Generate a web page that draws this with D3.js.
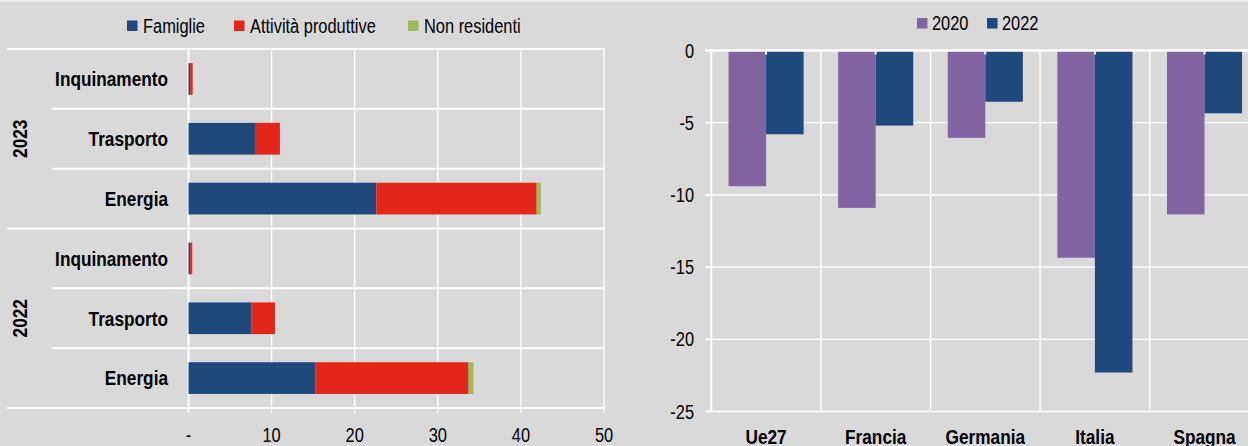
<!DOCTYPE html>
<html>
<head>
<meta charset="utf-8">
<style>
  body { margin: 0; background: #d9d9d9; }
  svg { display: block; }
  text { font-family: "Liberation Sans Narrow", "Arial Narrow", "Liberation Sans", Arial, sans-serif; fill: #000; }
  .bold { font-weight: bold; }
</style>
</head>
<body>
<svg id="chart" width="1248" height="446"></svg>
<script src="https://d3js.org/d3.v7.min.js"></script>
<script>
// ---- left panel data (stacked bars) ----
var years = ["2023", "2022"];
var sectors = ["Inquinamento", "Trasporto", "Energia"];
var stackKeys = ["Famiglie", "Attività produttive", "Non residenti"];
var stackColors = ["#1f497d", "#e3261a", "#9bbb59"];
var famiglie2023 = [0.2, 8.1, 22.6];
var attivita2023 = [0.3, 2.9, 19.3];
var nonres2023 = [0.0, 0.0, 0.5];
var famiglie2022 = [0.2, 7.6, 15.3];
var attivita2022 = [0.25, 2.8, 18.4];
var nonres2022 = [0.0, 0.0, 0.6];
var xTicks = [0, 10, 20, 30, 40, 50];

// ---- right panel data (grouped bars) ----
var countries = ["Ue27", "Francia", "Germania", "Italia", "Spagna"];
var groupKeys = ["2020", "2022"];
var groupColors = ["#8064a2", "#1f497d"];
var values2020 = [-9.4, -10.9, -6.05, -14.35, -11.35];
var values2022 = [-5.8, -5.2, -3.55, -22.3, -4.35];
var yTicks = [0, -5, -10, -15, -20, -25];

var svg = d3.select("#chart");
svg.append("rect").attr("width", 1248).attr("height", 446).attr("fill", "#d9d9d9");
svg.append("rect").attr("width", 1248).attr("height", 2).attr("fill", "#ececec");

// no narrow font installed: squeeze the regular one to an Arial Narrow width
function narrow(sel) {
  sel.each(function() {
    var len = this.getComputedTextLength();
    d3.select(this).attr("textLength", len * 0.82).attr("lengthAdjust", "spacingAndGlyphs");
  });
}

// ================= LEFT PANEL =================
var rows = [];
years.forEach(function(yr) {
  sectors.forEach(function(s, i) {
    var f = yr == "2023" ? famiglie2023 : famiglie2022;
    var a = yr == "2023" ? attivita2023 : attivita2022;
    var n = yr == "2023" ? nonres2023 : nonres2022;
    var row = { id: yr + "-" + s, year: yr, sector: s };
    row[stackKeys[0]] = f[i];
    row[stackKeys[1]] = a[i];
    row[stackKeys[2]] = n[i];
    rows.push(row);
  });
});

var x = d3.scaleLinear().domain([0, 50]).range([188.5, 604]);
var yRow = d3.scaleBand().domain(rows.map(function(d) { return d.id; }))
  .range([49, 408]).paddingInner(0.47).paddingOuter(0.235);
var rowStep = yRow.step();

var left = svg.append("g");

// vertical gridlines
left.selectAll(".vgrid").data(xTicks.slice(1)).enter().append("line")
  .attr("x1", function(d) { return x(d); }).attr("x2", function(d) { return x(d); })
  .attr("y1", 49).attr("y2", 413)
  .attr("stroke", "#fff").attr("stroke-width", 1.3);

// horizontal row separators
rows.forEach(function(r, i) {
  var yTop = 49 + i * rowStep;
  var isGroupStart = (i % 3 == 0);
  left.append("line")
    .attr("x1", isGroupStart ? 7 : 52).attr("x2", x(50))
    .attr("y1", yTop).attr("y2", yTop)
    .attr("stroke", "#fff").attr("stroke-width", 2);
});
left.append("line").attr("x1", 7).attr("x2", x(50))
  .attr("y1", 408).attr("y2", 408).attr("stroke", "#fff").attr("stroke-width", 2);

// axis line at zero
left.append("line").attr("x1", x(0)).attr("x2", x(0)).attr("y1", 49).attr("y2", 413)
  .attr("stroke", "#fff").attr("stroke-width", 2);

// stacked bars
var stacked = d3.stack().keys(stackKeys)(rows);
left.selectAll(".series").data(stacked).enter().append("g")
  .attr("fill", function(d, i) { return stackColors[i]; })
  .selectAll("rect").data(function(d) { return d; }).enter().append("rect")
  .attr("x", function(d) { return x(d[0]); })
  .attr("width", function(d) { return Math.max(0, x(d[1]) - x(d[0])); })
  .attr("y", function(d) { return yRow(d.data.id); })
  .attr("height", yRow.bandwidth());

// category labels
left.selectAll(".cat").data(rows).enter().append("text")
  .attr("class", "bold")
  .attr("x", 168)
  .attr("y", function(d) { return yRow(d.id) + yRow.bandwidth() / 2; })
  .attr("dy", "0.35em")
  .attr("text-anchor", "end")
  .style("font-size", "21px")
  .text(function(d) { return d.sector; })
  .call(narrow);

// year labels (rotated)
years.forEach(function(yr, gi) {
  var cy = 49 + (gi * 3 + 1.5) * rowStep;
  left.append("text")
    .attr("class", "bold")
    .attr("transform", "translate(20," + cy + ") rotate(-90)")
    .attr("text-anchor", "middle")
    .attr("dy", "0.35em")
    .style("font-size", "21px")
    .text(yr)
    .call(narrow);
});

// x axis labels
var xAxis = left.append("g").attr("transform", "translate(0,408)");
xAxis.selectAll(".xt").data(xTicks).enter().append("text")
  .attr("x", function(d) { return x(d); })
  .attr("y", 34)
  .attr("text-anchor", "middle")
  .style("font-size", "20px")
  .text(function(d) { return d == 0 ? "-" : d; })
  .call(narrow);

// left legend
var legL = [127, 234, 408];
stackKeys.forEach(function(k, i) {
  svg.append("rect").attr("x", legL[i]).attr("y", 20.5).attr("width", 10.5).attr("height", 10.5)
    .attr("fill", stackColors[i]);
  svg.append("text").attr("x", legL[i] + 16).attr("y", 33)
    .style("font-size", "20px").text(k).call(narrow);
});

// ================= RIGHT PANEL =================
var groups = countries.map(function(c, i) {
  return { country: c, "2020": values2020[i], "2022": values2022[i] };
});

var xc = d3.scaleBand().domain(countries).range([711.3, 1259.3]).padding(0);
var xs = d3.scaleBand().domain(groupKeys).range([0, xc.bandwidth()]).paddingInner(0).paddingOuter(0.46);
var y = d3.scaleLinear().domain([-25, 0]).range([411.5, 50.5]);

var right = svg.append("g");

// horizontal gridlines
right.selectAll(".hgrid").data(yTicks.slice(1)).enter().append("line")
  .attr("x1", 711).attr("x2", 1248)
  .attr("y1", function(d) { return y(d); }).attr("y2", function(d) { return y(d); })
  .attr("stroke", "#fff").attr("stroke-width", 1.3);

// vertical gridlines at category boundaries
right.selectAll(".vgrid").data(countries.slice(1)).enter().append("line")
  .attr("x1", function(d) { return xc(d); }).attr("x2", function(d) { return xc(d); })
  .attr("y1", y(0)).attr("y2", y(-25))
  .attr("stroke", "#fff").attr("stroke-width", 1.3);

// bars
right.selectAll(".grp").data(groups).enter().append("g")
  .attr("transform", function(d) { return "translate(" + xc(d.country) + ",0)"; })
  .selectAll("rect").data(function(d) { return groupKeys.map(function(k, i) { return { key: k, value: d[k], color: groupColors[i] }; }); })
  .enter().append("rect")
  .attr("x", function(d) { return xs(d.key); })
  .attr("width", xs.bandwidth())
  .attr("y", y(0))
  .attr("height", function(d) { return y(d.value) - y(0); })
  .attr("fill", function(d) { return d.color; });

// y axis line and ticks
right.append("line").attr("x1", 711.3).attr("x2", 711.3).attr("y1", y(0)).attr("y2", y(-25))
  .attr("stroke", "#fff").attr("stroke-width", 2);
right.selectAll(".ytick").data(yTicks).enter().append("line")
  .attr("x1", 705.5).attr("x2", 711.3)
  .attr("y1", function(d) { return y(d); }).attr("y2", function(d) { return y(d); })
  .attr("stroke", "#fff").attr("stroke-width", 2);
// zero line (top)
right.append("line").attr("x1", 705.5).attr("x2", 1248).attr("y1", y(0)).attr("y2", y(0))
  .attr("stroke", "#fff").attr("stroke-width", 2.5);
// small ticks on zero line
var topTicks = [];
countries.forEach(function(c) { topTicks.push(xc(c)); topTicks.push(xc(c) + xc.bandwidth() / 2); });
right.selectAll(".ttick").data(topTicks).enter().append("line")
  .attr("x1", function(d) { return d; }).attr("x2", function(d) { return d; })
  .attr("y1", y(0) + 1).attr("y2", y(0) + 4)
  .attr("stroke", "#fff").attr("stroke-width", 2);

// y labels
right.selectAll(".ylab").data(yTicks).enter().append("text")
  .attr("x", 694)
  .attr("y", function(d) { return y(d); })
  .attr("dy", "0.35em")
  .attr("text-anchor", "end")
  .style("font-size", "20px")
  .text(function(d) { return d; })
  .call(narrow);

// category labels
right.selectAll(".clab").data(countries).enter().append("text")
  .attr("class", "bold")
  .attr("x", function(d) { return xc(d) + xc.bandwidth() / 2; })
  .attr("y", 443.5)
  .attr("text-anchor", "middle")
  .style("font-size", "21px")
  .text(function(d) { return d; })
  .call(narrow);

// right legend
var legR = [917, 987];
groupKeys.forEach(function(k, i) {
  svg.append("rect").attr("x", legR[i]).attr("y", 18).attr("width", 10.5).attr("height", 10.5)
    .attr("fill", groupColors[i]);
  svg.append("text").attr("x", legR[i] + 15).attr("y", 30)
    .style("font-size", "20px").text(k).call(narrow);
});
</script>
</body>
</html>
